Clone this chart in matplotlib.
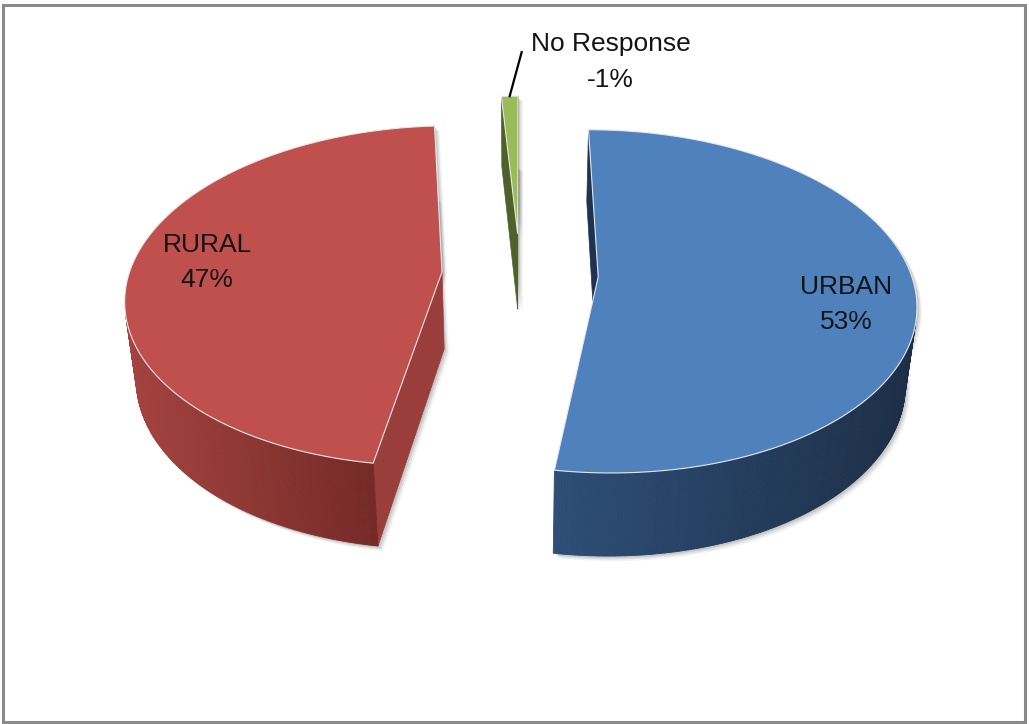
import numpy as np
import matplotlib.pyplot as plt
from matplotlib.patches import Polygon, Rectangle
from matplotlib.colors import to_rgb

plt.rcParams['font.family'] = ['Liberation Sans', 'DejaVu Sans']

# survey split by residence
labels = ["URBAN", "RURAL", "No Response"]
values = [53, 47, -1]

top_colors = ["#4F81BD", "#C0504D", "#9BBB59"]
rim_light = ["#2D4E77", "#A4433F", "#7A9445"]
rim_dark = ["#1D2F47", "#752A28", "#5A6E32"]
radial_colors = ["#1F3350", "#9A3E3B", "#4F6129"]

# 3d pie geometry (radius = 1)
elev = np.radians(34.7)
dist = 6.0
height = 0.30
explode = 0.25
scale = 304 * dist
origin = (520, 351)
cam = np.array([0.0, -dist * np.cos(elev), dist * np.sin(elev)])


def project(x, y, z):
    dx, dy, dz = x - cam[0], y - cam[1], z - cam[2]
    depth = dy * np.cos(elev) - dz * np.sin(elev)
    up = dy * np.sin(elev) + dz * np.cos(elev)
    return origin[0] + scale * dx / depth, origin[1] - scale * up / depth


def facing(point, normal):
    return np.dot(cam - np.asarray(point), normal) > 0


def mix(c1, c2, t):
    a, b = np.array(to_rgb(c1)), np.array(to_rgb(c2))
    return tuple(a + (b - a) * t)


fig = plt.figure(figsize=(10.29, 7.24), dpi=100)
ax = fig.add_axes([0, 0, 1, 1])
ax.set_xlim(0, 1029)
ax.set_ylim(724, 0)
ax.axis("off")

sizes = np.abs(values) / np.sum(np.abs(values)) * 360.0
starts = 90 - np.concatenate([[0], np.cumsum(sizes)[:-1]])

slices = []
for i, (start, size) in enumerate(zip(starts, sizes)):
    lo, hi = start - size, start
    mid = np.radians((lo + hi) / 2)
    c = np.array([explode * np.cos(mid), explode * np.sin(mid)])
    slices.append((i, lo, hi, mid, c))

# far slices first
slices.sort(key=lambda s: -s[4][1])

label_pos = {}
for i, lo, hi, mid, c in slices:
    ang = np.radians(np.linspace(lo, hi, max(int(hi - lo) * 2, 4)))
    ax_ = c[0] + np.cos(ang)
    ay_ = c[1] + np.sin(ang)

    # soft drop shadow under the slice
    for z in (0, height):
        outline = [project(c[0], c[1], z)] + [project(x, y, z) for x, y in zip(ax_, ay_)]
        for off, a in ((2, 0.10), (3.5, 0.08), (5, 0.05)):
            ax.add_patch(Polygon([(px + off, py + off) for px, py in outline], closed=True,
                                 facecolor="black", alpha=a, lw=0))

    # radial side faces
    for edge, nrm in ((np.radians(lo), np.radians(lo) - np.pi / 2),
                      (np.radians(hi), np.radians(hi) + np.pi / 2)):
        ex, ey = c[0] + np.cos(edge), c[1] + np.sin(edge)
        n = np.array([np.cos(nrm), np.sin(nrm), 0])
        midp = [(c[0] + ex) / 2, (c[1] + ey) / 2, height / 2]
        if facing(midp, n):
            pts = [project(c[0], c[1], height), project(ex, ey, height),
                   project(ex, ey, 0), project(c[0], c[1], 0)]
            ax.add_patch(Polygon(pts, closed=True, facecolor=radial_colors[i],
                                 edgecolor=radial_colors[i], lw=0.5))

    # outer rim, shaded left to right
    quads = []
    for k in range(len(ang) - 1):
        am = (ang[k] + ang[k + 1]) / 2
        n = np.array([np.cos(am), np.sin(am), 0])
        if facing([c[0] + np.cos(am), c[1] + np.sin(am), height / 2], n):
            quads.append([project(ax_[k], ay_[k], height),
                          project(ax_[k + 1], ay_[k + 1], height),
                          project(ax_[k + 1], ay_[k + 1], 0),
                          project(ax_[k], ay_[k], 0)])
    if quads:
        xs = [np.mean([p[0] for p in q]) for q in quads]
        x0, x1 = min(xs), max(xs)
        for q, xm in zip(quads, xs):
            t = 0 if x1 == x0 else (xm - x0) / (x1 - x0)
            col = mix(rim_light[i], rim_dark[i], t)
            ax.add_patch(Polygon(q, closed=True, facecolor=col, edgecolor=col, lw=0.6))

    # top face
    top = [project(c[0], c[1], height)] + [project(x, y, height) for x, y in zip(ax_, ay_)]
    ax.add_patch(Polygon(top, closed=True, facecolor=top_colors[i],
                         edgecolor="#E8E8E8", lw=0.8, joinstyle="round"))

    label_pos[i] = (c, mid)

# labels inside the big slices
label_shift = {0: (0.77, -0.10), 1: (0.76, 0.02)}
for i in (0, 1):
    c, mid = label_pos[i]
    r, dy = label_shift[i]
    lx, ly = project(c[0] + r * np.cos(mid), c[1] + r * np.sin(mid) + dy, height)
    ax.text(lx, ly, "%s\n%d%%" % (labels[i], values[i]), ha="center", va="center",
            fontsize=19, color="#141414", linespacing=1.6)

# tiny slice gets a leader line
c, mid = label_pos[2]
ox, oy = project(c[0] + np.cos(mid), c[1] + np.sin(mid), height)
ax.plot([ox, ox + 12], [oy, oy - 44], color="black", lw=1.6)
ax.text(ox + 101, oy - 34, "%s\n%d%%" % (labels[2], values[2]), ha="center", va="center",
        fontsize=19, color="#141414", linespacing=1.6)

# chart border
fig.patches.append(Rectangle((3 / 1029, 2 / 724), 1022 / 1029, 717 / 724,
                             transform=fig.transFigure, fill=False,
                             edgecolor="#8A8A8A", lw=2.2))

fig.savefig("out.png", dpi=100, facecolor="white")
